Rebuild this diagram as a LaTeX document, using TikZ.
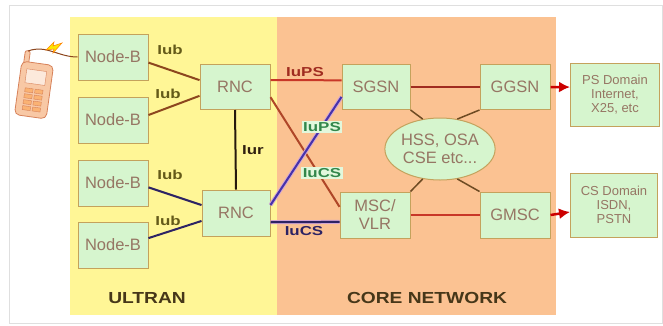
\documentclass[tikz,border=0pt]{standalone}
\usepackage{fontspec}
\setmainfont{Liberation Sans}
\newfontfamily\widefont[FakeStretch=1.3]{Liberation Sans}
\newfontfamily\areawide[FakeStretch=1.2]{Liberation Sans}
\usetikzlibrary{positioning,shapes.geometric,arrows.meta}

\definecolor{ultranyellow}{RGB}{255,246,150}
\definecolor{corepeach}{RGB}{251,194,146}
\definecolor{boxgreen}{RGB}{214,245,206}
\definecolor{boxline}{RGB}{196,162,92}
\definecolor{boxtext}{RGB}{150,118,100}
\definecolor{iubbrown}{RGB}{140,70,30}
\definecolor{iubnavy}{RGB}{45,35,100}
\definecolor{psred}{RGB}{200,55,40}
\definecolor{csred}{RGB}{175,70,40}
\definecolor{linkviolet}{RGB}{70,50,170}
\definecolor{hssline}{RGB}{110,75,35}
\definecolor{labelolive}{RGB}{100,90,25}
\definecolor{labelgreen}{RGB}{50,135,75}
\definecolor{areatext}{RGB}{70,55,25}
\definecolor{phonepeach}{RGB}{248,200,165}
\definecolor{phoneline}{RGB}{215,130,90}

\newcommand{\boxfont}{\fontsize{16.5}{18}\selectfont}
\newcommand{\smallboxfont}{\fontsize{13}{14}\selectfont}
\newcommand{\linkfont}{\widefont\bfseries\fontsize{13}{14}\selectfont}
\newcommand{\areafont}{\areawide\bfseries\fontsize{16}{18}\selectfont}

\begin{document}
\begin{tikzpicture}[x=1pt, y=-1pt,
    box/.style={draw=boxline, line width=1pt, fill=boxgreen, text=boxtext, minimum width=70pt, minimum height=46pt, inner sep=1pt, align=center, font=\boxfont},
    domainbox/.style={box, font=\smallboxfont},
    link/.style={line width=2pt},
    linklabel/.style={font=\linkfont, inner sep=1pt},
    midlabel/.style={linklabel, fill=boxgreen!70!white, text=labelgreen, inner sep=1.5pt},
    feed/.style={-{Latex[length=11pt,width=11pt]}, line width=2.5pt, draw=red!80!black}]
    \useasboundingbox (0,0) rectangle (663,325);
    \draw[gray!25, line width=1pt] (9,5) rectangle (662,323); % outer frame

    % the two areas
    \fill[ultranyellow] (70,17) rectangle (277,315);
    \fill[corepeach] (277,17) rectangle (556,315);
    \node[font=\areafont, text=areatext] (ultran) at (147,298) {ULTRAN};
    \node[font=\areafont, text=areatext] (core) at (427,298) {CORE NETWORK};

    % handset
    \begin{scope}[shift={(34,90)}, rotate=-8]
        \draw[fill=phonepeach, draw=phoneline, line width=0.8pt, rounded corners=2pt] (-14,-24) rectangle (-9,-38); % antenna
        \draw[fill=phonepeach, draw=phoneline, line width=0.8pt, rounded corners=5pt] (-16,-27) rectangle (16,27);
        \draw[fill=white!60!phonepeach, draw=phoneline] (-10,-20) rectangle (10,-6); % screen
        \foreach \r in {0,1,2,3}
            \foreach \c in {-1,1}
                \draw[fill=phonepeach!70!orange, draw=phoneline] (\c*5-4,\r*6-1) rectangle (\c*5+4,\r*6+3);
    \end{scope}
    \coordinate (handset) at (28,51);

    % access nodes
    \node[box] (nb1) at (113,57) {Node-B};   % Node-B 1
    \node[box] (nb2) at (113,120) {Node-B};  % Node-B 2
    \node[box] (nb3) at (113,183) {Node-B};  % Node-B 3
    \node[box] (nb4) at (113,245) {Node-B};  % Node-B 4
    \node[box, minimum height=45pt] (rnc1) at (235,87) {RNC};   % upper RNC
    \node[box, minimum width=68pt] (rnc2) at (236,213) {RNC};   % lower RNC

    % core nodes
    \node[box, minimum width=68pt, minimum height=45pt] (sgsn) at (376,87) {SGSN};
    \node[box, minimum height=45pt] (ggsn) at (515,87) {GGSN};
    \node[box] (msc) at (375,215) {MSC/\\VLR};
    \node[box] (gmsc) at (515,215) {GMSC};
    \node[draw=boxline, line width=1pt, fill=boxgreen, text=boxtext, ellipse, minimum width=96pt, minimum height=62pt, inner sep=0pt, align=center, font=\boxfont] (hss) at (440,149) {HSS, OSA\\CSE etc...};

    % outside domains
    \node[domainbox, minimum width=89pt, minimum height=63pt] (ps) at (615,95) {PS Domain\\Internet,\\X25, etc};
    \node[domainbox, minimum width=87pt, minimum height=64pt] (cs) at (614,205) {CS Domain\\ISDN,\\PSTN};

    % radio link
    \draw[iubbrown, line width=1pt] (handset) to[out=20, in=180] (nb1.west);
    \draw[fill=yellow!90!orange, draw=orange, line width=0.5pt] (46,50) -- (54,42) -- (53,46) -- (62,43) -- (53,53) -- (54,49) -- cycle; % bolt

    % Iub / Iur
    \draw[link, iubbrown] (nb1.-9) -- (rnc1.169);
    \draw[link, iubbrown] (nb2.8) -- (rnc1.194);
    \draw[link, iubnavy] (nb3.-7) -- (rnc2.167);
    \draw[link, iubnavy] (nb4.11) -- (rnc2.193);
    \draw[link, black!80!brown] (rnc1.south) -- (rnc2.north);
    \node[linklabel, text=labelolive] (iub1) at (170,50) {Iub};
    \node[linklabel, text=labelolive] (iub2) at (168,94) {Iub};
    \node[linklabel, text=labelolive] (iub3) at (170,175) {Iub};
    \node[linklabel, text=labelolive] (iub4) at (168,221) {Iub};
    \node[linklabel, text=black!75!brown] (iur) at (253,150) {Iur};

    % Iu links
    \draw[link, psred] (rnc1.11) -- (sgsn.169);
    \draw[link, csred] (rnc1.-16) -- (msc.167);
    \draw[link, violet!35, line width=4pt] (rnc2.13) -- (sgsn.196);
    \draw[link, linkviolet] (rnc2.13) -- (sgsn.196);
    \draw[link, violet!35, line width=4pt] (rnc2.-15) -- (msc.191);
    \draw[link, iubnavy] (rnc2.-15) -- (msc.191);
    \node[linklabel, text=psred!80!black] (iups1) at (305,72) {IuPS};
    \node[midlabel] (iups2) at (322,127) {IuPS};
    \node[midlabel] (iucs1) at (322,173) {IuCS};
    \node[linklabel, text=iubnavy] (iucs2) at (304,231) {IuCS};

    % core links
    \draw[link, psred!80!black] (sgsn.east) -- (ggsn.west);
    \draw[link, psred] (msc.east) -- (gmsc.west);
    \draw[hssline, line width=1.5pt] (sgsn.south east) -- (hss.120);
    \draw[hssline, line width=1.5pt] (ggsn.south west) -- (hss.60);
    \draw[hssline, line width=1.5pt] (msc.north east) -- (hss.240);
    \draw[hssline, line width=1.5pt] (gmsc.north west) -- (hss.300);
    \draw[feed] (ggsn.east) -- (ps.170);
    \draw[feed] (gmsc.east) -- (cs.189);
\end{tikzpicture}
\end{document}
